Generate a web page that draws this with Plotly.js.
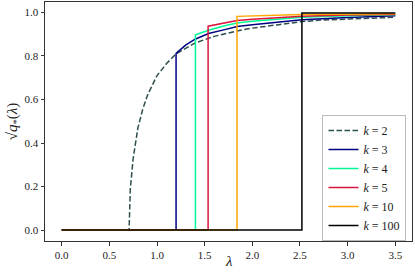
<!DOCTYPE html>
<html><head><meta charset="utf-8">
<script src="https://cdn.plot.ly/plotly-3.0.1.min.js"></script>
<style>html,body{margin:0;padding:0;background:#fff}#c{width:415px;height:273px}</style>
</head><body><div id="c"></div>
<script>
const labels = ["2","3","4","5","10","100"];
const colors = ["#2f4f4f","#000080","#00fa9a","#dc143c","#ffa500","#000000"];
const lam2 = [0,0.707,0.72,0.75,0.80,0.85,0.90,1.0,1.1,1.2,1.4,1.6,1.84,2.0,2.28,2.52,2.73,3.0,3.5];
const q2   = [0,0,0.19,0.33,0.47,0.555,0.62,0.71,0.765,0.81,0.86,0.89,0.915,0.928,0.944,0.958,0.965,0.97,0.978];
const lam3 = [0,1.2,1.2,1.3,1.4,1.54,1.7,1.84,2.0,2.28,2.52,3.0,3.5];
const q3   = [0,0,0.812,0.85,0.877,0.903,0.92,0.935,0.944,0.956,0.966,0.977,0.985];
const lam4 = [0,1.403,1.403,1.54,1.7,1.84,2.0,2.28,2.52,3.0,3.5];
const q4   = [0,0,0.897,0.918,0.938,0.952,0.96,0.971,0.978,0.985,0.989];
const lam5 = [0,1.536,1.536,1.7,1.84,2.0,2.2,2.52,3.0,3.5];
const q5   = [0,0,0.937,0.952,0.963,0.969,0.975,0.983,0.988,0.991];
const lam10 = [0,1.839,1.839,2.2,2.52,3.0,3.5];
const q10   = [0,0,0.982,0.987,0.99,0.992,0.994];
const lam100 = [0,2.52,2.52,3.0,3.5];
const q100   = [0,0,0.997,0.997,0.998];
const xs = [lam2,lam3,lam4,lam5,lam10,lam100];
const ys = [q2,q3,q4,q5,q10,q100];
const FAM = 'Liberation Serif, DejaVu Serif, serif';
const traces = xs.map((x,i)=>({
  x:x, y:ys[i], type:'scatter', mode:'lines',
  name:'<i>k</i> = '+labels[i],
  line:{color:colors[i], width:1.5, dash: i===0 ? '5.5px,2.5px' : 'solid'}
}));
const layout = {
  width:415, height:273,
  margin:{l:45,r:3,t:2,b:32},
  paper_bgcolor:'#fff', plot_bgcolor:'#fff',
  font:{family:FAM, size:11, color:'#222'},
  showlegend:true,
  xaxis:{range:[-0.175,3.675], tickvals:[0,0.5,1,1.5,2,2.5,3,3.5], tickformat:'.1f',
    showgrid:false, zeroline:false, showline:true, mirror:true, linecolor:'#333', linewidth:1,
    ticks:'outside', ticklen:3.5, tickcolor:'#333', tickfont:{family:FAM,size:11,color:'#222'}},
  yaxis:{range:[-0.05,1.048], tickvals:[0,0.2,0.4,0.6,0.8,1.0], tickformat:'.1f',
    showgrid:false, zeroline:false, showline:true, mirror:true, linecolor:'#333', linewidth:1,
    ticks:'outside', ticklen:3.5, tickcolor:'#333', tickfont:{family:FAM,size:11,color:'#222'},
    title:{text:'√<i>q</i><sub>*</sub>(<i>λ</i>)', font:{family:FAM,size:15,color:'#222'}, standoff:3}},
  annotations:[{text:'<i>λ</i>', xref:'paper', yref:'paper', x:0.5, y:-0.085, xanchor:'center', yanchor:'middle',
    showarrow:false, font:{family:FAM,size:15,color:'#222'}}],
  legend:{x:0.985, y:0.0, xanchor:'right', yanchor:'bottom', bgcolor:'rgba(255,255,255,0.9)',
    bordercolor:'#bbb', borderwidth:1, font:{family:FAM,size:12,color:'#222'},
    tracegroupgap:0, itemwidth:30}
};
Plotly.newPlot('c', traces, layout, {staticPlot:true, displayModeBar:false});
</script></body></html>
